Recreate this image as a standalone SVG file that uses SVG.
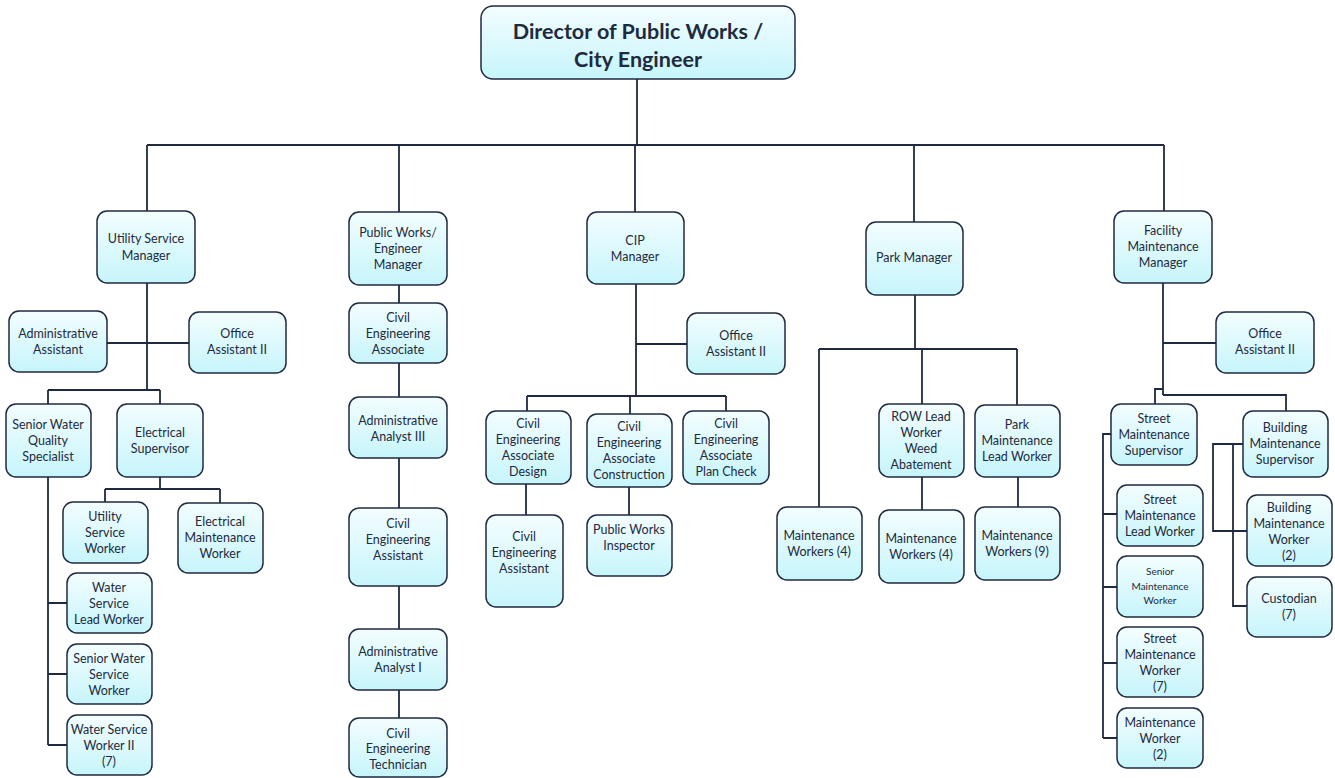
<svg xmlns="http://www.w3.org/2000/svg" width="1335" height="778" viewBox="0 0 1335 778">
  <defs>
    <linearGradient id="boxFill" x1="0" y1="0" x2="0" y2="1">
      <stop offset="0" stop-color="#f3fdfe"/>
      <stop offset="1" stop-color="#c6f5fb"/>
    </linearGradient>
    <style>
      .box { fill: url(#boxFill); stroke: #1f2a40; stroke-width: 1.5; }
      .lbl { font-family: Lato, "Open Sans", "Liberation Sans", sans-serif; font-size: 12.5px; fill: #1f2a40; text-anchor: middle; }
      .sm { font-size: 10px; }
      .title { font-family: Lato, "Open Sans", "Liberation Sans", sans-serif; font-size: 21.5px; font-weight: bold; fill: #1f2a40; text-anchor: middle; }
      .wire { fill: none; stroke: #1f2a40; stroke-width: 1.8; }
    </style>
  </defs>
  <rect width="1335" height="778" fill="#ffffff"/>

  <!-- connectors -->
  <g id="connectors" class="wire">
    <path d="M637 79V145M147 145H1164M147 145V211M399 145V212M635 145V212M914 145V222M1164 145V211"/>
    <!-- utility services -->
    <path d="M147 283V390M107 343H189M48 390H160M48 390V404M160 390V404"/>
    <path d="M160 477V489M105 489H220M105 489V502M220 489V503"/>
    <path d="M48 477V745M48 603H67M48 674H67M48 745H67"/>
    <!-- public works / engineering -->
    <path d="M399 285V718"/>
    <!-- CIP -->
    <path d="M636 284V396M636 344H687M527 396H726M527 396V411M726 396V411M630 396V414"/>
    <path d="M526 484V515M629 487V515"/>
    <!-- parks -->
    <path d="M915 295V349M819 349H1017M819 349V507M922 349V404M1017 349V405"/>
    <path d="M922 477V510M1018 477V507"/>
    <!-- facility maintenance -->
    <path d="M1163 283V395M1163 343H1216M1163 395H1286V411M1163 389H1155V404"/>
    <path d="M1111 434H1103V738M1103 514H1117M1103 587H1117M1103 663H1117M1103 738H1117"/>
    <path d="M1243 444H1213V531H1247M1233 444V606H1247"/>
  </g>

  <g id="director">
    <rect class="box" x="481" y="6" width="314" height="73" rx="12"/>
    <text class="title" x="638" y="39">Director of Public Works /</text>
    <text class="title" x="638" y="67">City Engineer</text>
  </g>

  <!-- Utility services -->
  <g id="utility-service-manager">
    <rect class="box" x="97" y="211" width="98" height="72" rx="10"/>
    <text class="lbl" x="146" y="243">Utility Service</text>
    <text class="lbl" x="146" y="260">Manager</text>
  </g>
  <g id="administrative-assistant">
    <rect class="box" x="9" y="311" width="98" height="61" rx="10"/>
    <text class="lbl" x="58" y="338">Administrative</text>
    <text class="lbl" x="58" y="354">Assistant</text>
  </g>
  <g id="office-assistant-utility">
    <rect class="box" x="189" y="312" width="97" height="61" rx="10"/>
    <text class="lbl" x="237" y="338">Office</text>
    <text class="lbl" x="237" y="354">Assistant II</text>
  </g>
  <g id="senior-water-quality-specialist">
    <rect class="box" x="6" y="404" width="85" height="73" rx="10"/>
    <text class="lbl" x="48" y="429">Senior Water</text>
    <text class="lbl" x="48" y="445">Quality</text>
    <text class="lbl" x="48" y="461">Specialist</text>
  </g>
  <g id="electrical-supervisor">
    <rect class="box" x="117" y="404" width="86" height="73" rx="10"/>
    <text class="lbl" x="160" y="437">Electrical</text>
    <text class="lbl" x="160" y="453">Supervisor</text>
  </g>
  <g id="utility-service-worker">
    <rect class="box" x="63" y="502" width="85" height="61" rx="10"/>
    <text class="lbl" x="105" y="521">Utility</text>
    <text class="lbl" x="105" y="537">Service</text>
    <text class="lbl" x="105" y="553">Worker</text>
  </g>
  <g id="electrical-maintenance-worker">
    <rect class="box" x="178" y="503" width="85" height="70" rx="10"/>
    <text class="lbl" x="220" y="526">Electrical</text>
    <text class="lbl" x="220" y="542">Maintenance</text>
    <text class="lbl" x="220" y="558">Worker</text>
  </g>
  <g id="water-service-lead-worker">
    <rect class="box" x="67" y="573" width="85" height="60" rx="10"/>
    <text class="lbl" x="109" y="592">Water</text>
    <text class="lbl" x="109" y="608">Service</text>
    <text class="lbl" x="109" y="624">Lead Worker</text>
  </g>
  <g id="senior-water-service-worker">
    <rect class="box" x="67" y="644" width="85" height="60" rx="10"/>
    <text class="lbl" x="109" y="663">Senior Water</text>
    <text class="lbl" x="109" y="679">Service</text>
    <text class="lbl" x="109" y="695">Worker</text>
  </g>
  <g id="water-service-worker-ii">
    <rect class="box" x="67" y="715" width="85" height="60" rx="10"/>
    <text class="lbl" x="109" y="734">Water Service</text>
    <text class="lbl" x="109" y="750">Worker II</text>
    <text class="lbl" x="109" y="766">(7)</text>
  </g>

  <!-- Public works / engineering -->
  <g id="public-works-engineer-manager">
    <rect class="box" x="349" y="212" width="98" height="73" rx="10"/>
    <text class="lbl" x="398" y="237">Public Works/</text>
    <text class="lbl" x="398" y="253">Engineer</text>
    <text class="lbl" x="398" y="269">Manager</text>
  </g>
  <g id="civil-engineering-associate">
    <rect class="box" x="349" y="303" width="98" height="60" rx="10"/>
    <text class="lbl" x="398" y="322">Civil</text>
    <text class="lbl" x="398" y="338">Engineering</text>
    <text class="lbl" x="398" y="354">Associate</text>
  </g>
  <g id="administrative-analyst-iii">
    <rect class="box" x="349" y="397" width="98" height="61" rx="10"/>
    <text class="lbl" x="398" y="425">Administrative</text>
    <text class="lbl" x="398" y="441">Analyst III</text>
  </g>
  <g id="civil-engineering-assistant">
    <rect class="box" x="349" y="508" width="98" height="78" rx="10"/>
    <text class="lbl" x="398" y="528">Civil</text>
    <text class="lbl" x="398" y="544">Engineering</text>
    <text class="lbl" x="398" y="560">Assistant</text>
  </g>
  <g id="administrative-analyst-i">
    <rect class="box" x="349" y="629" width="98" height="61" rx="10"/>
    <text class="lbl" x="398" y="656">Administrative</text>
    <text class="lbl" x="398" y="672">Analyst I</text>
  </g>
  <g id="civil-engineering-technician">
    <rect class="box" x="349" y="718" width="98" height="59" rx="10"/>
    <text class="lbl" x="398" y="738">Civil</text>
    <text class="lbl" x="398" y="753">Engineering</text>
    <text class="lbl" x="398" y="769">Technician</text>
  </g>

  <!-- Capital improvement program -->
  <g id="cip-manager">
    <rect class="box" x="587" y="212" width="97" height="72" rx="10"/>
    <text class="lbl" x="635" y="245">CIP</text>
    <text class="lbl" x="635" y="261">Manager</text>
  </g>
  <g id="office-assistant-cip">
    <rect class="box" x="687" y="313" width="98" height="61" rx="10"/>
    <text class="lbl" x="736" y="340">Office</text>
    <text class="lbl" x="736" y="356">Assistant II</text>
  </g>
  <g id="cea-design">
    <rect class="box" x="486" y="411" width="85" height="73" rx="10"/>
    <text class="lbl" x="528" y="428">Civil</text>
    <text class="lbl" x="528" y="444">Engineering</text>
    <text class="lbl" x="528" y="460">Associate</text>
    <text class="lbl" x="528" y="476">Design</text>
  </g>
  <g id="cea-construction">
    <rect class="box" x="587" y="414" width="85" height="73" rx="10"/>
    <text class="lbl" x="629" y="431">Civil</text>
    <text class="lbl" x="629" y="447">Engineering</text>
    <text class="lbl" x="629" y="463">Associate</text>
    <text class="lbl" x="629" y="479">Construction</text>
  </g>
  <g id="cea-plan-check">
    <rect class="box" x="683" y="411" width="86" height="73" rx="10"/>
    <text class="lbl" x="726" y="428">Civil</text>
    <text class="lbl" x="726" y="444">Engineering</text>
    <text class="lbl" x="726" y="460">Associate</text>
    <text class="lbl" x="726" y="476">Plan Check</text>
  </g>
  <g id="cip-civil-engineering-assistant">
    <rect class="box" x="486" y="515" width="77" height="92" rx="10"/>
    <text class="lbl" x="524" y="541">Civil</text>
    <text class="lbl" x="524" y="557">Engineering</text>
    <text class="lbl" x="524" y="573">Assistant</text>
  </g>
  <g id="public-works-inspector">
    <rect class="box" x="587" y="515" width="85" height="61" rx="10"/>
    <text class="lbl" x="629" y="534">Public Works</text>
    <text class="lbl" x="629" y="550">Inspector</text>
  </g>

  <!-- Parks -->
  <g id="park-manager">
    <rect class="box" x="866" y="222" width="97" height="73" rx="10"/>
    <text class="lbl" x="914" y="262">Park Manager</text>
  </g>
  <g id="maintenance-workers-a">
    <rect class="box" x="777" y="507" width="85" height="73" rx="10"/>
    <text class="lbl" x="819" y="540">Maintenance</text>
    <text class="lbl" x="819" y="556">Workers (4)</text>
  </g>
  <g id="row-lead-worker">
    <rect class="box" x="879" y="404" width="85" height="73" rx="10"/>
    <text class="lbl" x="921" y="421">ROW Lead</text>
    <text class="lbl" x="921" y="437">Worker</text>
    <text class="lbl" x="921" y="453">Weed</text>
    <text class="lbl" x="921" y="469">Abatement</text>
  </g>
  <g id="maintenance-workers-b">
    <rect class="box" x="879" y="510" width="85" height="73" rx="10"/>
    <text class="lbl" x="921" y="543">Maintenance</text>
    <text class="lbl" x="921" y="559">Workers (4)</text>
  </g>
  <g id="park-maintenance-lead-worker">
    <rect class="box" x="975" y="405" width="85" height="72" rx="10"/>
    <text class="lbl" x="1017" y="429">Park</text>
    <text class="lbl" x="1017" y="445">Maintenance</text>
    <text class="lbl" x="1017" y="461">Lead Worker</text>
  </g>
  <g id="maintenance-workers-c">
    <rect class="box" x="975" y="507" width="85" height="73" rx="10"/>
    <text class="lbl" x="1017" y="540">Maintenance</text>
    <text class="lbl" x="1017" y="556">Workers (9)</text>
  </g>

  <!-- Facility maintenance -->
  <g id="facility-maintenance-manager">
    <rect class="box" x="1114" y="211" width="98" height="72" rx="10"/>
    <text class="lbl" x="1163" y="235">Facility</text>
    <text class="lbl" x="1163" y="251">Maintenance</text>
    <text class="lbl" x="1163" y="267">Manager</text>
  </g>
  <g id="office-assistant-facility">
    <rect class="box" x="1216" y="312" width="98" height="61" rx="10"/>
    <text class="lbl" x="1265" y="338">Office</text>
    <text class="lbl" x="1265" y="354">Assistant II</text>
  </g>
  <g id="street-maintenance-supervisor">
    <rect class="box" x="1111" y="404" width="86" height="61" rx="10"/>
    <text class="lbl" x="1154" y="423">Street</text>
    <text class="lbl" x="1154" y="439">Maintenance</text>
    <text class="lbl" x="1154" y="455">Supervisor</text>
  </g>
  <g id="building-maintenance-supervisor">
    <rect class="box" x="1243" y="411" width="85" height="66" rx="10"/>
    <text class="lbl" x="1285" y="432">Building</text>
    <text class="lbl" x="1285" y="448">Maintenance</text>
    <text class="lbl" x="1285" y="464">Supervisor</text>
  </g>
  <g id="street-maintenance-lead-worker">
    <rect class="box" x="1117" y="485" width="86" height="61" rx="10"/>
    <text class="lbl" x="1160" y="504">Street</text>
    <text class="lbl" x="1160" y="520">Maintenance</text>
    <text class="lbl" x="1160" y="536">Lead Worker</text>
  </g>
  <g id="senior-maintenance-worker">
    <rect class="box" x="1117" y="556" width="86" height="61" rx="10"/>
    <text class="lbl sm" x="1160" y="575">Senior</text>
    <text class="lbl sm" x="1160" y="590">Maintenance</text>
    <text class="lbl sm" x="1160" y="604">Worker</text>
  </g>
  <g id="street-maintenance-worker">
    <rect class="box" x="1117" y="627" width="86" height="70" rx="10"/>
    <text class="lbl" x="1160" y="643">Street</text>
    <text class="lbl" x="1160" y="659">Maintenance</text>
    <text class="lbl" x="1160" y="675">Worker</text>
    <text class="lbl" x="1160" y="691">(7)</text>
  </g>
  <g id="maintenance-worker">
    <rect class="box" x="1117" y="708" width="86" height="60" rx="10"/>
    <text class="lbl" x="1160" y="727">Maintenance</text>
    <text class="lbl" x="1160" y="743">Worker</text>
    <text class="lbl" x="1160" y="759">(2)</text>
  </g>
  <g id="building-maintenance-worker">
    <rect class="box" x="1247" y="495" width="85" height="71" rx="10"/>
    <text class="lbl" x="1289" y="512">Building</text>
    <text class="lbl" x="1289" y="528">Maintenance</text>
    <text class="lbl" x="1289" y="544">Worker</text>
    <text class="lbl" x="1289" y="560">(2)</text>
  </g>
  <g id="custodian">
    <rect class="box" x="1247" y="577" width="85" height="60" rx="10"/>
    <text class="lbl" x="1289" y="603">Custodian</text>
    <text class="lbl" x="1289" y="619">(7)</text>
  </g>
</svg>
